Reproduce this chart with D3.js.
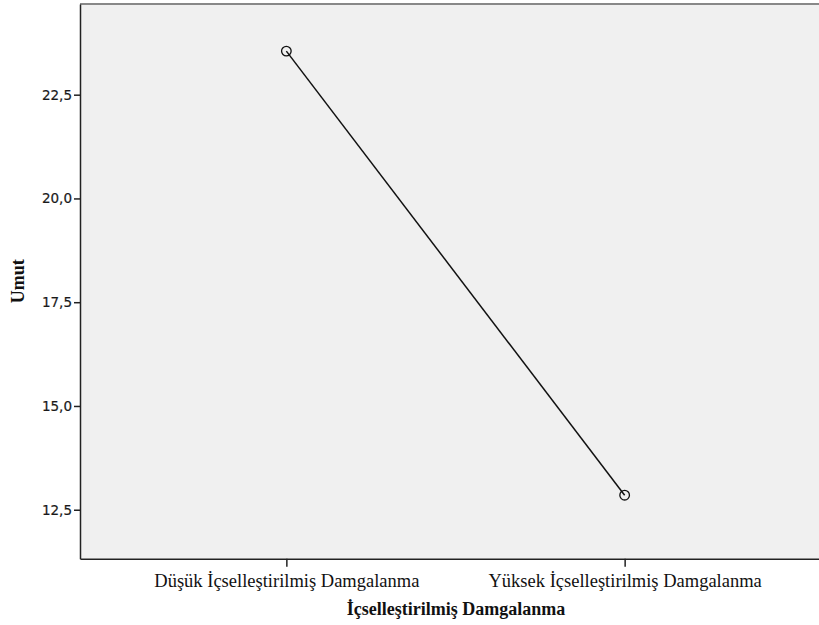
<!DOCTYPE html>
<html><head><meta charset="utf-8">
<script src="https://cdn.jsdelivr.net/npm/d3@7"></script>
<style>body{margin:0;background:#fff}</style>
</head><body>
<svg id="c" width="819" height="625"></svg>
<script>
const categories = ["Düşük İçselleştirilmiş Damgalanma", "Yüksek İçselleştirilmiş Damgalanma"];
const values = [23.55, 12.85];
const yTicks = [12.5, 15.0, 17.5, 20.0, 22.5];
const yLabel = "Umut";
const xLabel = "İçselleştirilmiş Damgalanma";

const svg = d3.select("#c");
const L = 80, R = 831, T = 4, B = 558.7;
const x = d3.scalePoint().domain(categories).range([L, R]).padding(0.61);
const y = d3.scaleLinear().domain([11.32, 24.685]).range([B, T]);

svg.append("rect").attr("x", L).attr("y", T).attr("width", R - L).attr("height", B - T)
  .attr("fill", "#f0f0f0");
svg.append("line").attr("x1", L).attr("x2", R).attr("y1", T).attr("y2", T)
  .attr("stroke", "#888").attr("stroke-width", 2);

const yAxis = svg.append("g").attr("transform", `translate(${L},0)`)
  .call(d3.axisLeft(y).tickValues(yTicks).tickSize(6).tickSizeOuter(0)
    .tickFormat(d => d3.format(".1f")(d).replace(".", ",")));
yAxis.select(".domain").attr("stroke", "#222").attr("stroke-width", 1.5);
yAxis.selectAll(".tick line").attr("stroke", "#222").attr("stroke-width", 1.5);
yAxis.selectAll(".tick text").attr("font-family", "DejaVu Sans, sans-serif").attr("font-size", 13.5)
  .attr("fill", "#1a1a1a").attr("stroke", "#1a1a1a").attr("stroke-width", 0.2).attr("x", -8);

const xAxis = svg.append("g").attr("transform", `translate(0,${B})`)
  .call(d3.axisBottom(x).tickSize(8).tickSizeOuter(0));
xAxis.select(".domain").attr("stroke", "#222").attr("stroke-width", 1.5);
xAxis.selectAll(".tick line").attr("stroke", "#222").attr("stroke-width", 1.5);
xAxis.selectAll(".tick text").attr("font-family", "Liberation Serif, serif").attr("font-size", 18.5)
  .attr("fill", "#111").attr("y", 11).attr("dy", 0)
  .attr("transform", "translate(0,17)");

const line = d3.line().x((d, i) => x(categories[i])).y(d => y(d));
svg.append("path").datum(values).attr("d", line).attr("fill", "none")
  .attr("stroke", "#111").attr("stroke-width", 1.5);
svg.selectAll("circle.pt").data(values).enter().append("circle")
  .attr("cx", (d, i) => x(categories[i])).attr("cy", d => y(d)).attr("r", 4.8)
  .attr("fill", "none").attr("stroke", "#111").attr("stroke-width", 1.3);

svg.append("text").attr("x", 456).attr("y", 615).attr("text-anchor", "middle")
  .attr("font-family", "Liberation Serif, serif").attr("font-weight", "bold").attr("font-size", 18)
  .attr("fill", "#111").text(xLabel);
svg.append("text").attr("transform", `translate(23.5,${(T + B) / 2}) rotate(-90)`).attr("text-anchor", "middle")
  .attr("font-family", "Liberation Serif, serif").attr("font-weight", "bold").attr("font-size", 18)
  .attr("fill", "#111").text(yLabel);
</script>
</body></html>
